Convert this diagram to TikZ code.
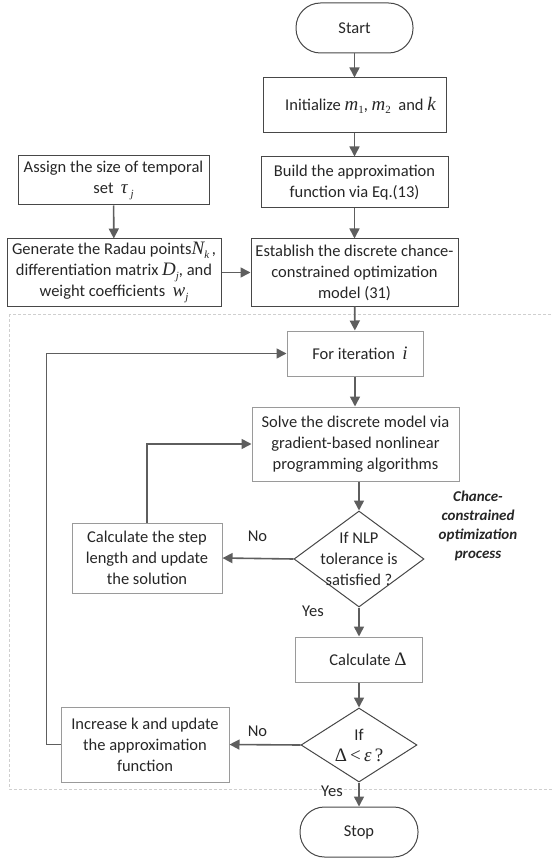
\documentclass[tikz,border=0pt]{standalone}
\usepackage{fontspec}
\setmainfont{Carlito}
\newfontfamily\tms{Liberation Serif}
\newcommand\mv[1]{{\tms\itshape\fontsize{19pt}{19pt}\selectfont #1}}
\newcommand\mup[1]{{\tms\fontsize{19pt}{19pt}\selectfont #1}}
\newcommand\msub[1]{\raisebox{-3.5pt}{\tms\itshape\fontsize{11pt}{11pt}\selectfont #1}}
\newcommand\msubr[1]{\raisebox{-3.5pt}{\tms\fontsize{11pt}{11pt}\selectfont #1}}
\usetikzlibrary{shapes.geometric,arrows.meta}
\definecolor{txtc}{HTML}{262626}
\definecolor{darkb}{HTML}{474747}
\definecolor{lightb}{HTML}{9A9A9A}
\definecolor{arrc}{HTML}{5E5E5E}
\definecolor{dashc}{HTML}{CFCFCF}
\begin{document}
\begin{tikzpicture}[x=1pt,y=-1pt,
  every node/.style={font=\fontsize{16.5pt}{21pt}\selectfont, text=txtc},
  dbox/.style={draw=darkb, line width=1pt, align=center, inner sep=0pt},
  lbox/.style={draw=lightb, line width=1pt, align=center, inner sep=0pt},
  term/.style={draw=darkb, line width=1pt, rounded corners=24.5pt, inner sep=0pt},
  dia/.style={draw=darkb, line width=1pt, diamond, inner sep=0pt},
  txt/.style={align=center, inner sep=0pt},
  flow/.style={draw=arrc, line width=1.6pt, -{Triangle[length=10pt,width=10pt]}},
  lab/.style={inner sep=0pt},
  side/.style={align=center, inner sep=0pt, font=\fontsize{15pt}{19pt}\selectfont\bfseries\itshape}
]
\useasboundingbox (0,0) rectangle (553,858);
% dashed region
\draw[dashc, line width=0.7pt, dash pattern=on 3pt off 2pt] (9,314) rectangle (560,789);

\node[term, minimum width=117pt, minimum height=50pt] (start) at (354.5,28) {Start};
\node[dbox, minimum width=183pt, minimum height=55pt] (init) at (354.5,105.5) {\hspace{12pt}Initialize \mv{m}\msubr{1}, \mv{m}\msubr{2}\ \ and \mv{k}};
\node[dbox, minimum width=187pt, minimum height=51pt] (build) at (354.5,182.5) {Build the approximation\\function via Eq.(13)};
\node[dbox, minimum width=191pt, minimum height=49pt] (assign) at (113.5,180.5) {Assign the size of temporal\\set \ \mv{τ}\,\msub{j}};
\node[dbox, minimum width=214pt, minimum height=67pt] (gen) at (114,272.5) {Generate the Radau points\mv{N}\msub{k}\,,\\differentiation matrix \mv{D}\msub{j}, and\\weight coefficients \ \mv{w}\msub{j}};
\node[dbox, minimum width=207pt, minimum height=67pt] (est) at (354.5,272.5) {Establish the discrete chance-\\constrained optimization\\model (31)};
\node[lbox, minimum width=136pt, minimum height=45pt] (iter) at (355,353.5) {\hspace{10pt}For iteration \ \mv{i}};
\node[lbox, minimum width=207pt, minimum height=74pt] (solve) at (355.5,444) {Solve the discrete model via\\gradient-based nonlinear\\programming algorithms};
\node[dia, minimum width=130pt, minimum height=96pt] (d1) at (359,559) {};
\node[txt] (d1t) at (d1.center) {If NLP\\tolerance is\\satisfied ?};
\node[lbox, minimum width=150pt, minimum height=70pt] (step) at (147,558) {Calculate the step\\length and update\\the solution};
\node[lbox, minimum width=127pt, minimum height=45pt] (calc) at (358.5,659.5) {\hspace{19pt}Calculate \mup{Δ}};
\node[dia, minimum width=116pt, minimum height=74pt] (d2) at (359,745) {};
\node[txt] (d2t) at (d2.center) {If\\\mup{Δ\,<\,\textit{ε}\,?}};
\node[lbox, minimum width=168pt, minimum height=75pt] (inc) at (145,744.5) {Increase k and update\\the approximation\\function};
\node[term, minimum width=118pt, minimum height=50pt] (stop) at (359,832) {Stop};

\node[side] (proc) at (478,525.5) {Chance-\\constrained\\optimization\\process};

\node[lab] (no1) at (257.5,536) {No};
\node[lab] (yes1) at (313,611) {Yes};
\node[lab] (no2) at (257.5,731) {No};
\node[lab] (yes2) at (332,791) {Yes};

\draw[flow] (start) -- (init);
\draw[flow] (init) -- (build);
\draw[flow] (build) -- (est);
\draw[flow] (assign) -- (gen);
\draw[flow] (gen) -- (est);
\draw[flow] (est) -- (iter);
\draw[flow] (iter) -- (iter |- solve.north);
\draw[flow] (d1 |- solve.south) -- (d1.north);
\draw[flow] (d1.west) -- (step.east);
\draw[flow] (step.north) |- (solve.west);
\draw[flow] (d1.south) -- (calc.north -| d1.south);
\draw[flow] (calc.south -| d2.north) -- (d2.north);
\draw[flow] (d2.west) -- (inc.east);
\draw[flow] (inc.west) -- ++(-14,0) |- (iter.west);
\draw[flow] (d2.south) -- (stop.north);
\end{tikzpicture}
\end{document}
